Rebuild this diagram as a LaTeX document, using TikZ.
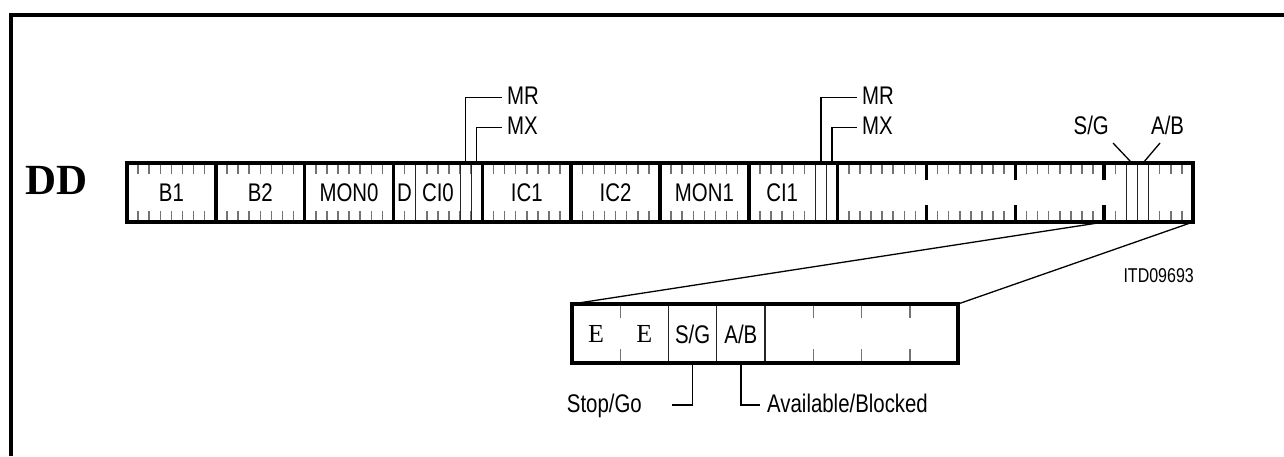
\documentclass[tikz,border=0pt]{standalone}
\usepackage{fontspec}
\setmainfont{Liberation Serif}
\newfontfamily\lblfont[FakeStretch=0.8]{Liberation Sans}
\usetikzlibrary{calc,positioning}

\def\bw{11.104}  % bit width in the DD frame
\def\zw{48.25}   % bit width in the zoomed byte

\begin{document}
\begin{tikzpicture}[x=1pt, y=-1pt,
    frame/.style={line width=3.6pt},
    bitick/.style={line width=1.5pt, black!55},
    bitline/.style={line width=1.2pt, black!85},
    leader/.style={line width=1.3pt},
    lbl/.style={font=\lblfont\fontsize{25.5}{25.5}\selectfont, inner sep=0pt},
    smalllbl/.style={font=\lblfont\fontsize{20}{20}\selectfont, inner sep=0pt},
    serif/.style={font=\fontsize{26}{26}\selectfont, inner sep=0pt}]
    \useasboundingbox (0,0) rectangle (1284,456);

    % Outer frame (top and left edge only)
    \draw[line width=3.4pt] (11,456) -- (11,15) -- (1284,15);

    % Channel name
    \node[font=\bfseries\fontsize{43}{43}\selectfont, inner sep=0pt] (dd) at (57,180) {DD};

    % DD frame corners
    \coordinate (bar nw) at (127,163);
    \coordinate (bar se) at (1193,222);

    % Bit ticks
    \foreach \i in {1,...,95}{
        \pgfmathtruncatemacro\m{mod(\i,8)}
        \ifnum\m=0\relax\else
            \draw[bitick] (127+\i*\bw,163) -- ++(0,11) (127+\i*\bw,222) -- ++(0,-11);
        \fi
    }
    % Full bit lines (D, C/I, MR, MX, S/G, A/B)
    \foreach \i in {26,30,31,62,63,90,91,92}
        \draw[bitline] (127+\i*\bw,163) -- (127+\i*\bw,222);
    % Byte boundaries
    \foreach \i in {8,16,...,64}
        \draw[frame] (127+\i*\bw,163) -- (127+\i*\bw,222);
    \foreach \i in {72,80,88}
        \draw[frame] (127+\i*\bw,163) -- ++(0,17) (127+\i*\bw,222) -- ++(0,-17);
    \draw[frame] (bar nw) rectangle (bar se);

    % Byte labels
    \node[lbl] (b1)   at (127+4*\bw,192.5)  {B1};
    \node[lbl] (b2)   at (127+12*\bw,192.5) {B2};
    \node[lbl] (mon0) at (127+20*\bw,192.5) {MON0};
    \node[lbl] (d)    at (127+25*\bw,192.5) {D};
    \node[lbl] (ci0)  at (127+28*\bw,192.5) {CI0};
    \node[lbl] (ic1)  at (127+36*\bw,192.5) {IC1};
    \node[lbl] (ic2)  at (127+44*\bw,192.5) {IC2};
    \node[lbl] (mon1) at (127+52*\bw,192.5) {MON1};
    \node[lbl] (ci1)  at (127+59*\bw,192.5) {CI1};

    % MR / MX of channel 0
    \node[lbl, anchor=base west] (mr0) at (507,104) {MR};
    \node[lbl, anchor=base west] (mx0) at (507,134) {MX};
    \coordinate (mr0 bit) at (127+30.5*\bw,163);
    \coordinate (mx0 bit) at (127+31.5*\bw,163);
    \draw[leader] (mr0 bit) |- ($(mr0.west)+(-5,2)$);
    \draw[leader] (mx0 bit) |- ($(mx0.west)+(-5,2)$);

    % MR / MX of channel 1
    \node[lbl, anchor=base west] (mr1) at (862,104) {MR};
    \node[lbl, anchor=base west] (mx1) at (862,134) {MX};
    \coordinate (mr1 bit) at (127+62.5*\bw,163);
    \coordinate (mx1 bit) at (127+63.5*\bw,163);
    \draw[leader] (mr1 bit) |- ($(mr1.west)+(-5,2)$);
    \draw[leader] (mx1 bit) |- ($(mx1.west)+(-5,2)$);

    % S/G and A/B in the last byte
    \node[lbl, anchor=base east] (sg top) at (1109,134) {S/G};
    \node[lbl, anchor=base west] (ab top) at (1151,134) {A/B};
    \draw[leader] (1113,143) -- (127+90.5*\bw,163);
    \draw[leader] (1160,143) -- (127+91.5*\bw,163);

    \node[smalllbl, anchor=base east] (itd) at (1194,282) {ITD09693};

    % Zoomed byte
    \coordinate (zoom nw) at (572,304);
    \coordinate (zoom ne) at (958,304);
    \coordinate (zoom se) at (958,363);
    \foreach \i in {1,5,6,7}
        \draw[bitick] (572+\i*\zw,304) -- ++(0,14) (572+\i*\zw,363) -- ++(0,-14);
    \foreach \i in {2,3,4}
        \draw[bitline] (572+\i*\zw,304) -- (572+\i*\zw,363);
    \draw[frame] (zoom nw) rectangle (zoom se);

    % Projection lines
    \draw[leader] (127+88*\bw,222) -- (zoom nw);
    \draw[leader] (bar se) -- (zoom ne);

    \node[serif] (e1) at (572+0.5*\zw,334) {E};
    \node[serif] (e2) at (572+1.5*\zw,334) {E};
    \node[lbl] (sg) at (572+2.5*\zw,334) {S/G};
    \node[lbl] (ab) at (572+3.5*\zw,334) {A/B};

    % Stop/Go and Available/Blocked
    \node[lbl, anchor=base east] (stopgo) at (642,412) {Stop/Go};
    \node[lbl, anchor=base west] (avail) at (767,412) {Available/Blocked};
    \draw[leader] (572+2.5*\zw,363) |- (672,405);
    \draw[leader] (572+3.5*\zw,363) |- (760,405);
\end{tikzpicture}
\end{document}
